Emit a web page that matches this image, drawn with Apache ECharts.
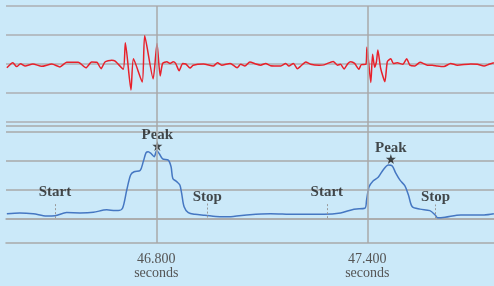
<!DOCTYPE html>
<html>
<head>
<meta charset="utf-8">
<script src="https://cdn.jsdelivr.net/npm/echarts@6/dist/echarts.min.js"></script>
<style>
html,body{margin:0;padding:0;background:#cbe9f9;}
#chart{width:494px;height:286px;}
</style>
</head>
<body>
<div id="chart"></div>
<script>
// ---- data ----
const xMin = 46.3726, xMax = 47.7603;
const tickValues = [46.8, 47.4];
const tickLabels = ["46.800", "47.400"];
const tickUnit = "seconds";

const redTimes = [46.375,46.392,46.403,46.414,46.427,46.449,46.474,46.503,46.526,46.545,46.578,46.600,46.616,46.631,46.643,46.654,46.673,46.683,46.706,46.712,46.728,46.735,46.760,46.767,46.791,46.802,46.811,46.818,46.830,46.839,46.848,46.855,46.865,46.875,46.884,46.896,46.905,46.934,46.962,46.974,46.986,47.010,47.030,47.040,47.052,47.066,47.083,47.097,47.111,47.125,47.154,47.168,47.177,47.190,47.201,47.211,47.225,47.239,47.263,47.277,47.303,47.315,47.324,47.334,47.345,47.353,47.364,47.376,47.383,47.396,47.399,47.410,47.415,47.421,47.426,47.430,47.438,47.450,47.457,47.467,47.474,47.485,47.501,47.512,47.521,47.535,47.550,47.571,47.585,47.599,47.618,47.637,47.656,47.694,47.713,47.732,47.746,47.760];
const redValues = [-0.13,0.04,-0.09,0.01,-0.07,0,-0.08,0,-0.10,0.06,0.06,-0.13,0.07,0.06,-0.16,0.07,0.13,0.10,-0.18,0.73,-0.90,0.18,-0.62,0.97,-0.51,0.71,-0.41,0.02,0.08,0.02,0.08,0.02,-0.23,0.02,0,-0.14,-0.04,0,-0.07,0.04,-0.04,0.02,-0.13,-0.01,-0.07,0.07,0,-0.04,0.02,-0.06,-0.07,0.02,-0.07,0.02,-0.16,-0.07,0.07,-0.01,-0.04,-0.03,0.09,-0.04,-0.01,-0.17,0.02,0.08,0.02,-0.18,-0.02,-0.01,0.58,-0.64,0.34,-0.11,0.08,0.48,-0.15,-0.61,0.08,0.18,0.02,0.04,-0.01,0.18,-0.04,-0.07,0.06,-0.04,-0.04,-0.07,-0.09,0.02,-0.04,0,-0.01,-0.07,-0.01,0.04];

const blueTimes = [46.375,46.412,46.450,46.488,46.512,46.545,46.583,46.621,46.659,46.683,46.692,46.704,46.716,46.727,46.737,46.754,46.763,46.771,46.777,46.784,46.794,46.801,46.809,46.818,46.834,46.842,46.847,46.858,46.867,46.872,46.879,46.891,46.910,46.938,46.981,47.019,47.066,47.125,47.192,47.277,47.324,47.362,47.393,47.398,47.405,47.417,47.431,47.446,47.460,47.471,47.481,47.493,47.507,47.517,47.528,47.550,47.578,47.593,47.600,47.621,47.666,47.732,47.760];
const blueValues = [0.18,0.21,0.18,0.10,0.11,0.22,0.21,0.23,0.32,0.29,0.29,0.37,1.00,1.52,1.63,1.67,1.98,2.29,2.32,2.27,2.15,2.36,2.24,2.07,2.03,1.80,1.40,1.29,1.17,0.89,0.42,0.22,0.16,0.13,0.08,0.09,0.15,0.18,0.16,0.16,0.21,0.34,0.37,0.66,1.11,1.32,1.44,1.71,1.86,1.83,1.58,1.34,1.14,0.83,0.42,0.34,0.29,0.14,0.04,0.06,0.14,0.14,0.18];

const eventNames = ["Start", "Stop", "Start", "Stop"];
const eventTimes = [46.512, 46.945, 47.285, 47.594];
const eventLabelValues = [0.91, 0.77, 0.91, 0.75];
const eventMarkLow = [0.03, 0.05, 0.03, 0.03];
const eventMarkHigh = [0.52, 0.56, 0.52, 0.50];

const peakNames = ["Peak", "Peak"];
const peakTimes = [46.803, 47.467];
const peakValues = [2.52, 2.07];

// ---- chart ----
const serif = "Liberation Serif";
const starPath = 'path://M50,0 L61,35 L98,35 L68,57 L79,91 L50,70 L21,91 L32,57 L2,35 L39,35 Z';

const chart = echarts.init(document.getElementById('chart'), null, {renderer:'canvas'});
chart.setOption({
  backgroundColor: '#cbe9f9',
  animation: false,
  grid: [
    {left: 6, right: 0, top: 6, height: 116},
    {left: 6, right: 0, top: 126, height: 93},
    {left: 6, right: 0, top: 6, height: 237}
  ],
  xAxis: [
    {gridIndex:0, type:'value', min:xMin, max:xMax, axisLine:{show:false}, axisTick:{show:false}, axisLabel:{show:false}, splitLine:{show:false}},
    {gridIndex:1, type:'value', position:'top', min:xMin, max:xMax, axisLine:{show:true, lineStyle:{color:'#a9a9a9', width:1.5}}, axisTick:{show:false}, axisLabel:{show:false}, splitLine:{show:false}},
    {gridIndex:2, type:'value', min:xMin, max:xMax,
      axisLine:{show:true, onZero:false, lineStyle:{color:'#a9a9a9', width:1.5}},
      axisTick:{show:false},
      splitLine:{show:false},
      axisLabel:{
        customValues: tickValues,
        formatter: function(v){ const i = tickValues.findIndex(t => Math.abs(t - v) < 1e-6); return (i >= 0 ? tickLabels[i] : '') + '\n' + tickUnit; },
        color:'#555', fontFamily: serif, fontSize: 14, lineHeight: 14, margin: 9
      }
    }
  ],
  yAxis: [
    {gridIndex:0, type:'value', min:-2, max:2, interval:1, axisLine:{show:false}, axisTick:{show:false}, axisLabel:{show:false}, splitLine:{show:true, lineStyle:{color:'#b4bdc4', width:2}}},
    {gridIndex:1, type:'value', min:0, max:3.2069, interval:1, axisLine:{show:false}, axisTick:{show:false}, axisLabel:{show:false}, splitLine:{show:true, lineStyle:{color:'#a9a9a9', width:1.5}}},
    {gridIndex:2, type:'value', min:0, max:1, show:false, splitLine:{show:false}}
  ],
  series: [
    {
      type:'line', xAxisIndex:2, yAxisIndex:2, data:[], z:1, silent:true,
      markLine:{
        symbol:'none', silent:true, label:{show:false},
        lineStyle:{color:'#a9a9a9', width:1.5, type:'solid'},
        data: tickValues.map(v => ({xAxis: v}))
      }
    },
    {
      type:'line', xAxisIndex:0, yAxisIndex:0, z:3,
      data: redTimes.map((t,i) => [t, redValues[i]]),
      showSymbol:false, smooth:0.2,
      lineStyle:{color:'#e8212b', width:1.5}
    },
    {
      type:'line', xAxisIndex:1, yAxisIndex:1, z:3,
      data: blueTimes.map((t,i) => [t, blueValues[i]]),
      showSymbol:false, smooth:0.3,
      lineStyle:{color:'#4577c2', width:1.5},
      markLine:{
        symbol:'none', silent:true, label:{show:false},
        lineStyle:{color:'#9a9a9a', width:1, type:[2,2]},
        data: eventTimes.map((t,i) => [{coord:[t, eventMarkLow[i]]}, {coord:[t, eventMarkHigh[i]]}])
      }
    },
    {
      type:'scatter', xAxisIndex:1, yAxisIndex:1, z:4,
      symbolSize:0,
      data: eventTimes.map((t,i) => ({name:eventNames[i], value:[t, eventLabelValues[i]]})),
      label:{show:true, position:'inside', formatter:'{b}', color:'#1e1e1e', fontFamily:serif, fontWeight:'bold', fontSize:15}
    },
    {
      type:'scatter', xAxisIndex:1, yAxisIndex:1, z:4,
      symbol: starPath, symbolSize: 10,
      itemStyle:{color:'#1a1a1a'},
      data: peakTimes.map((t,i) => ({name:peakNames[i], value:[t, peakValues[i]]})),
      label:{show:true, position:'top', distance:-2, lineHeight:15, formatter:'{b}', color:'#1e1e1e', fontFamily:serif, fontWeight:'bold', fontSize:15}
    }
  ]
});
</script>
</body>
</html>
